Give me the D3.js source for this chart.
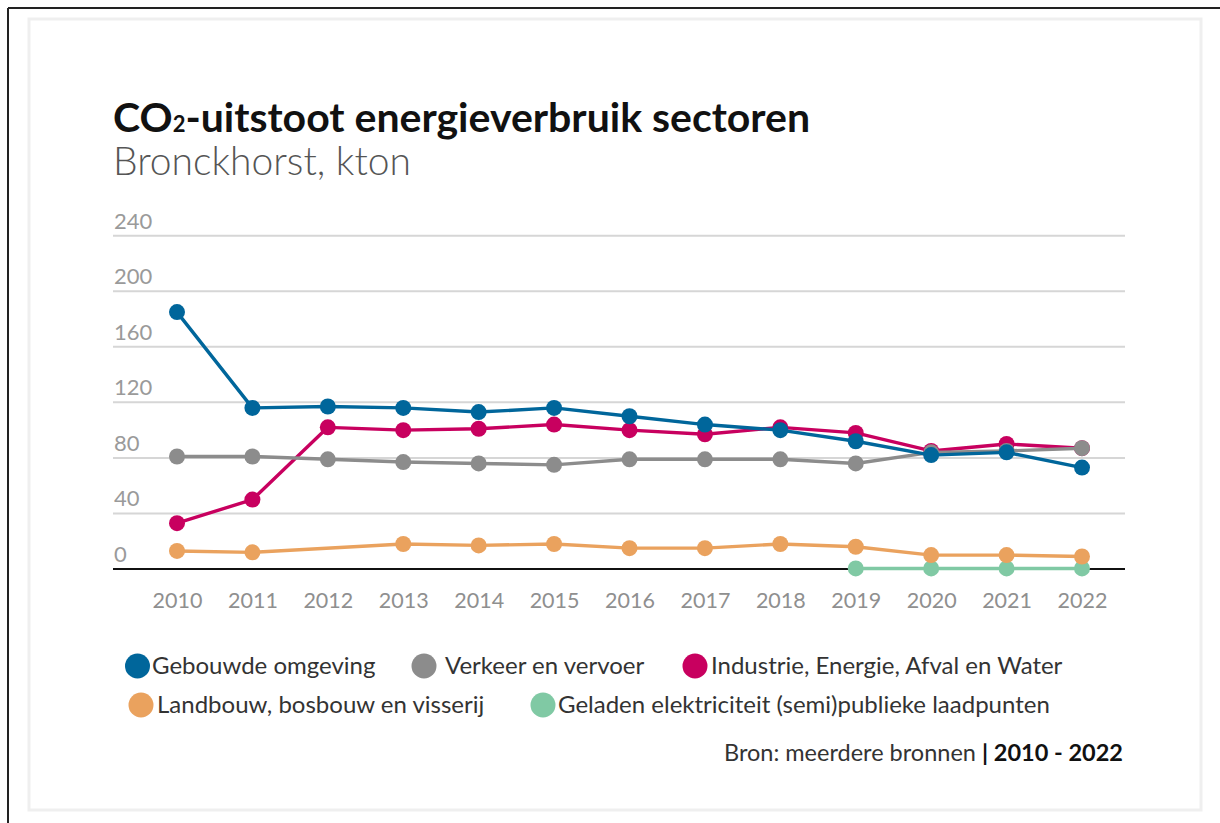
<!DOCTYPE html>
<html>
<head>
<meta charset="utf-8">
<script src="https://cdn.jsdelivr.net/npm/d3@7"></script>
<style>
  html, body { margin: 0; padding: 0; background: #fff; }
  svg { display: block; }
</style>
</head>
<body>
<svg id="chart" width="1220" height="823"></svg>
<script>
// ---------- data ----------
const years = [2010, 2011, 2012, 2013, 2014, 2015, 2016, 2017, 2018, 2019, 2020, 2021, 2022];
const gebouwde  = [185, 116, 117, 116, 113, 116, 110, 104, 100, 92, 82, 84, 73];
const verkeer   = [81, 81, 79, 77, 76, 75, 79, 79, 79, 76, 84, 85, 87];
const industrie = [33, 50, 102, 100, 101, 104, 100, 97, 102, 98, 85, 90, 87];
const landbouw  = [13, 12, null, 18, 17, 18, 15, 15, 18, 16, 10, 10, 9];
const geladen   = [null, null, null, null, null, null, null, null, null, 0.4, 0.4, 0.4, 0.4];
const yTicks = [0, 40, 80, 120, 160, 200, 240];
const seriesNames = ["Gebouwde omgeving", "Verkeer en vervoer", "Industrie, Energie, Afval en Water",
                     "Landbouw, bosbouw en visserij", "Geladen elektriciteit (semi)publieke laadpunten"];
const seriesColors = ["#00669b", "#8c8c8c", "#c8005f", "#eaa25e", "#80c9a4"];
const titleText = "-uitstoot energieverbruik sectoren";
const subtitleText = "Bronckhorst, kton";
const sourceText = "Bron: meerdere bronnen ";
const sourcePeriod = "| 2010 - 2022";

const seriesValues = [gebouwde, verkeer, industrie, landbouw, geladen];
const series = seriesNames.map((name, i) => ({
  name, color: seriesColors[i],
  points: years.map((y, j) => ({ year: y, value: seriesValues[i][j] })).filter(d => d.value !== null)
}));

// ---------- layout ----------
const svg = d3.select("#chart");
const FONT = "Lato, 'Source Sans Pro', 'Open Sans', sans-serif";

// outer frame
svg.append("line").attr("x1", 8).attr("x2", 1220).attr("y1", 8).attr("y2", 8)
  .attr("stroke", "#222").attr("stroke-width", 2);
svg.append("line").attr("x1", 8).attr("x2", 8).attr("y1", 8).attr("y2", 823)
  .attr("stroke", "#222").attr("stroke-width", 2);
// card
svg.append("rect").attr("x", 29).attr("y", 19).attr("width", 1172).attr("height", 791)
  .attr("fill", "#fff").attr("stroke", "#efefef").attr("stroke-width", 3);

// title
const title = svg.append("text").attr("x", 113).attr("y", 132)
  .attr("font-family", FONT).attr("font-weight", 700).attr("font-size", 41).attr("fill", "#111");
title.append("tspan").text("CO");
title.append("tspan").attr("font-size", 22).text("2");
title.append("tspan").text(titleText);

svg.append("text").attr("x", 113).attr("y", 175)
  .attr("font-family", FONT).attr("font-weight", 300).attr("font-size", 39).attr("fill", "#555")
  .text(subtitleText);

// scales
const x = d3.scalePoint().domain(years).range([177, 1082]);
const y = d3.scaleLinear().domain([0, 240]).range([569, 235.7]);

// grid
const grid = svg.append("g");
grid.selectAll("line").data(yTicks.filter(t => t > 0)).join("line")
  .attr("x1", 113).attr("x2", 1125)
  .attr("y1", d => y(d)).attr("y2", d => y(d))
  .attr("stroke", "#d6d6d6").attr("stroke-width", 2);

// y labels (above the grid lines)
svg.append("g").selectAll("text").data(yTicks).join("text")
  .attr("x", 114).attr("y", d => y(d) - 7)
  .attr("font-family", FONT).attr("font-size", 22).attr("fill", "#9a9a9a")
  .text(d => d);

// x axis
const xAxis = svg.append("g").attr("transform", "translate(0,569)")
  .call(d3.axisBottom(x).tickSize(0).tickPadding(0));
xAxis.select(".domain").remove();
xAxis.selectAll("text").attr("y", 39).attr("dy", 0)
  .attr("font-family", FONT).attr("font-size", 21.5).attr("fill", "#8f8f8f");
svg.append("line").attr("x1", 113).attr("x2", 1125).attr("y1", 569).attr("y2", 569)
  .attr("stroke", "#111").attr("stroke-width", 2);

// lines & markers (draw order so blue ends on top)
const order = [4, 3, 2, 1, 0];
const line = d3.line().x(d => x(d.year)).y(d => y(d.value));
const plot = svg.append("g");
order.forEach(i => {
  const s = series[i];
  const g = plot.append("g");
  g.append("path").datum(s.points).attr("d", line)
    .attr("fill", "none").attr("stroke", s.color).attr("stroke-width", 3.4)
    .attr("stroke-linejoin", "round");
  g.selectAll("circle").data(s.points).join("circle")
    .attr("cx", d => x(d.year)).attr("cy", d => y(d.value)).attr("r", 8)
    .attr("fill", s.color);
});

// legend
const legendPos = [
  { cx: 137.5, cy: 666, tx: 152 },
  { cx: 424, cy: 666, tx: 445 },
  { cx: 695, cy: 666, tx: 711 },
  { cx: 141, cy: 705, tx: 157 },
  { cx: 543, cy: 705, tx: 558 }
];
const legend = svg.append("g");
series.forEach((s, i) => {
  const p = legendPos[i];
  legend.append("circle").attr("cx", p.cx).attr("cy", p.cy).attr("r", 12.5).attr("fill", s.color);
  legend.append("text").attr("x", p.tx).attr("y", p.cy + 8)
    .attr("font-family", FONT).attr("font-size", 24).attr("fill", "#333")
    .text(s.name);
});

// source
const src = svg.append("text").attr("x", 1123).attr("y", 761).attr("text-anchor", "end")
  .attr("font-family", FONT).attr("font-size", 23.5).attr("fill", "#333");
src.append("tspan").text(sourceText);
src.append("tspan").attr("font-weight", 700).attr("fill", "#111").text(sourcePeriod);
</script>
</body>
</html>
